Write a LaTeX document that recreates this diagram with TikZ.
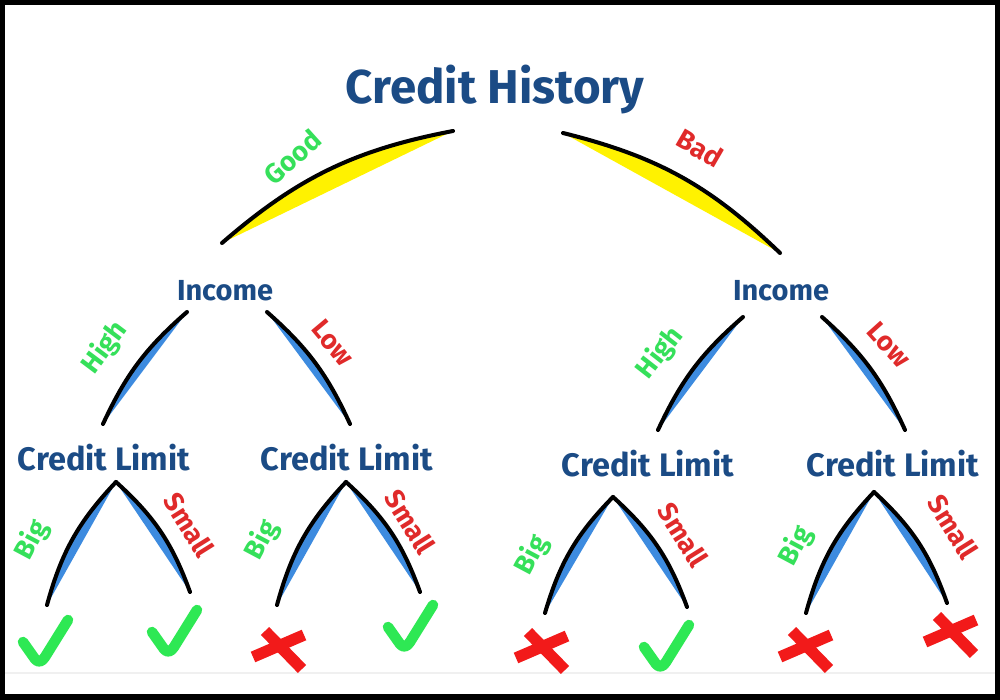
\documentclass[tikz,border=0pt]{standalone}
\usepackage{fontspec}
\setmainfont{Fira Sans}
\usetikzlibrary{positioning}
\definecolor{TitleBlue}{HTML}{1B4B85}
\definecolor{GoodGreen}{HTML}{35E05A}
\definecolor{BadRed}{HTML}{E02A2A}
\definecolor{BranchYellow}{HTML}{FFF200}
\definecolor{BranchBlue}{HTML}{3D8BDF}
\definecolor{TickGreen}{HTML}{2EE854}
\definecolor{CrossRed}{HTML}{F21A1A}
\tikzset{
  rootnode/.style={font=\fontsize{27}{32}\selectfont\bfseries\color{TitleBlue},inner sep=1pt},
  incnode/.style={font=\fontsize{16.5}{20}\selectfont\bfseries\color{TitleBlue},inner sep=1pt},
  limnode/.style={font=\fontsize{18.5}{22}\selectfont\bfseries\color{TitleBlue},inner sep=1pt},
  yeslabel/.style={font=\fontsize{15.5}{18}\selectfont\bfseries\color{GoodGreen},inner sep=1pt},
  nolabel/.style={font=\fontsize{15.5}{18}\selectfont\bfseries\color{BadRed},inner sep=1pt},
  branchline/.style={line width=2.3pt,line cap=round,draw=black},
  tick/.pic={
    \draw[TickGreen,line width=6pt,line cap=round,line join=round]
      (-22,2) -- (-10,19) .. controls (-7,23) and (-3,22) .. (0,17) -- (23,-20);
  },
  crossmark/.pic={
    \draw[CrossRed,line width=6.5pt] (-25,7) -- (26,-15);
    \draw[CrossRed,line width=6.5pt] (-13,-19) -- (24,19);
  },
}
% curved branch: fill colour, from, to, bend
\newcommand{\branch}[4]{%
  \fill[#1] (#2) to[#4] (#3) -- cycle;
  \draw[branchline] (#2) to[#4] (#3);}

\begin{document}
\begin{tikzpicture}[x=0.2mm,y=-0.2mm]
  \useasboundingbox (0,0) rectangle (1000,700);
  % frame
  \fill[black] (0,0) rectangle (1000,700);
  \fill[white] (5,5) rectangle (995,694);
  \draw[gray!12,line width=0.6pt] (5,673) -- (995,673);
  % decision nodes
  \node[rootnode] (root) at (495,90) {Credit History};
  \node[incnode] (inc1) at (225,291) {Income};
  \node[incnode] (inc2) at (781,291) {Income};
  \node[limnode] (lim1) at (104,458) {Credit Limit};
  \node[limnode] (lim2) at (347,458) {Credit Limit};
  \node[limnode] (lim3) at (648,464) {Credit Limit};
  \node[limnode] (lim4) at (893,464) {Credit Limit};
  % branch ends
  \coordinate (good0) at (453,131);  \coordinate (good1) at (222,243);
  \coordinate (bad0)  at (563,133);  \coordinate (bad1)  at (780,253);
  \coordinate (high1a) at (187,312); \coordinate (high1b) at (103,424);
  \coordinate (low1a)  at (267,312); \coordinate (low1b)  at (350,424);
  \coordinate (high2a) at (743,317); \coordinate (high2b) at (658,430);
  \coordinate (low2a)  at (822,317); \coordinate (low2b)  at (905,430);
  \coordinate (apex1) at (116,482); \coordinate (big1) at (47,605);  \coordinate (small1) at (190,592);
  \coordinate (apex2) at (346,482); \coordinate (big2) at (277,605); \coordinate (small2) at (420,592);
  \coordinate (apex3) at (613,497); \coordinate (big3) at (545,613); \coordinate (small3) at (687,607);
  \coordinate (apex4) at (874,492); \coordinate (big4) at (806,613); \coordinate (small4) at (947,603);
  % branches
  \branch{BranchYellow}{good0}{good1}{bend right=15}
  \branch{BranchYellow}{bad0}{bad1}{bend left=15}
  \branch{BranchBlue}{high1a}{high1b}{bend right=12}
  \branch{BranchBlue}{low1a}{low1b}{bend left=12}
  \branch{BranchBlue}{high2a}{high2b}{bend right=12}
  \branch{BranchBlue}{low2a}{low2b}{bend left=12}
  \branch{BranchBlue}{apex1}{big1}{bend right=14}
  \branch{BranchBlue}{apex1}{small1}{bend left=14}
  \branch{BranchBlue}{apex2}{big2}{bend right=14}
  \branch{BranchBlue}{apex2}{small2}{bend left=14}
  \branch{BranchBlue}{apex3}{big3}{bend right=14}
  \branch{BranchBlue}{apex3}{small3}{bend left=14}
  \branch{BranchBlue}{apex4}{big4}{bend right=14}
  \branch{BranchBlue}{apex4}{small4}{bend left=14}
  % branch labels
  \node[yeslabel,rotate=42] (lgood) at (292,157) {Good};
  \node[nolabel,rotate=-30] (lbad) at (700,148) {Bad};
  \node[yeslabel,rotate=53] (lhigh1) at (105,348) {High};
  \node[nolabel,rotate=-50] (llow1) at (333,343) {Low};
  \node[yeslabel,rotate=52] (lhigh2) at (660,353) {High};
  \node[nolabel,rotate=-48] (llow2) at (889,345) {Low};
  \node[yeslabel,rotate=62] (lbig1) at (32,540) {Big};
  \node[nolabel,rotate=-58] (lsmall1) at (189,525) {Small};
  \node[yeslabel,rotate=62] (lbig2) at (262,540) {Big};
  \node[nolabel,rotate=-58] (lsmall2) at (410,522) {Small};
  \node[yeslabel,rotate=62] (lbig3) at (532,555) {Big};
  \node[nolabel,rotate=-58] (lsmall3) at (683,535) {Small};
  \node[yeslabel,rotate=62] (lbig4) at (796,546) {Big};
  \node[nolabel,rotate=-58] (lsmall4) at (953,527) {Small};
  % outcomes
  \pic at (45,640) {tick};
  \pic at (174,630) {tick};
  \pic at (278,650) {crossmark};
  \pic at (410,625) {tick};
  \pic at (541,651) {crossmark};
  \pic at (666,645) {tick};
  \pic at (805,650) {crossmark};
  \pic at (950,635) {crossmark};
\end{tikzpicture}
\end{document}
